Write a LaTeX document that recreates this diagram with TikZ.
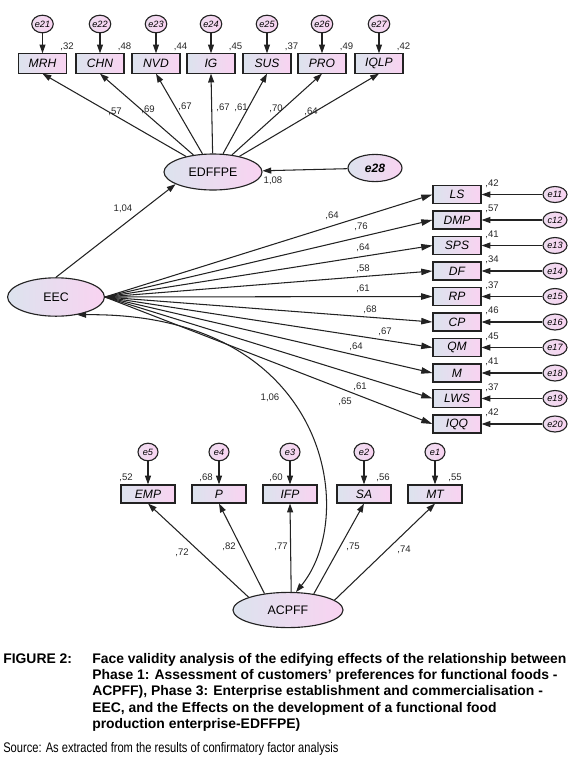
\documentclass[tikz,border=0pt]{standalone}
\usepackage{fontspec}
\setmainfont{Liberation Sans}
\newfontfamily\narrowfont[FakeStretch=0.8]{Liberation Sans}
\usetikzlibrary{arrows.meta,positioning,shapes.geometric}
\definecolor{shdL}{HTML}{DCE3EE}
\definecolor{shdR}{HTML}{F9D3F1}
\definecolor{errL}{HTML}{EEDDF0}
\definecolor{errR}{HTML}{F9D3F1}
\definecolor{edge}{HTML}{222222}
\tikzset{
  obsblk/.style={draw=edge,rectangle,line width=0.8pt,left color=shdL,right color=shdR,minimum width=12mm,minimum height=4.5mm,inner sep=0pt,font=\fontsize{8.6}{9}\selectfont\itshape},
  latent/.style={draw=edge,ellipse,line width=0.8pt,left color=shdL,right color=shdR,inner sep=0pt,font=\fontsize{8.8}{9}\selectfont},
  errnode/.style={draw=edge,ellipse,line width=0.8pt,left color=errL,right color=errR,minimum width=5mm,minimum height=4.4mm,inner sep=0pt,font=\fontsize{6.5}{7}\selectfont\itshape},
  arr/.style={-{Triangle[length=2.2mm,width=1.5mm]},line width=0.75pt,draw=edge},
  dblarr/.style={{Triangle[length=2.2mm,width=1.5mm]}-{Triangle[length=2.2mm,width=1.5mm]},line width=0.75pt,draw=edge},
  num/.style={font=\fontsize{6.8}{7}\selectfont,inner sep=0pt,text=black!85},
  captxt/.style={font=\fontsize{9.9}{11.6}\selectfont\bfseries,inner sep=0pt,align=left}
}

\begin{document}
\begin{tikzpicture}[x=0.25mm,y=-0.25mm]
  \useasboundingbox (0,0) rectangle (580,763);
  % Latent factors
  \node[latent, minimum width=24.5mm, minimum height=9mm] (EDF) at (213,172) {EDFFPE};
  \node[latent, minimum width=24.2mm, minimum height=9.6mm] (EEC) at (56,297) {EEC};
  \node[latent, minimum width=27.5mm, minimum height=8.8mm] (ACP) at (288,610) {ACPFF};
  \node[latent, minimum width=13.5mm, minimum height=6.8mm, font=\fontsize{8.6}{9}\selectfont\bfseries\itshape] (e28) at (375,168) {e28};

  % EDFFPE indicators
  \foreach \i/\x/\nm/\e/\rr/\v/\lx/\ly in {1/42.5/MRH/e21/32/57/115/112, 2/100/CHN/e22/48/69/148/110,
      3/156/NVD/e23/44/67/185/107, 4/211/IG/e24/45/67/223/108, 5/267/SUS/e25/37/61/241/108,
      6/322/PRO/e26/49/70/276/109, 7/379/IQLP/e27/42/64/311/112}{
    \node[obsblk, minimum height=4.8mm] (t\i) at (\x,63.5) {\nm};
    \node[errnode] (et\i) at (\x,24) {\e};
    \node[num] (rt\i) at (\x+24.5,47) {,\rr};
    \node[num] (lt\i) at (\lx,\ly) {,\v};
    \draw[arr] (et\i) -- (t\i);
    \draw[arr] (EDF) -- (t\i.south);
  }
  \draw[arr] (e28) -- (EDF);
  \node[num] (v28) at (273,181) {1,08};

  % EEC indicators
  \foreach \i/\nm/\e/\rr/\v/\lx/\ly in {1/LS/e11/42/64/332/216, 2/DMP/c12/57/76/361/227,
      3/SPS/e13/41/64/363/248, 4/DF/e14/34/58/363/269, 5/RP/e15/37/61/363/289,
      6/CP/e16/46/68/370/310, 7/QM/e17/45/67/385/332, 8/M/e18/41/64/356/347,
      9/LWS/e19/37/61/360/387, 10/IQQ/e20/42/65/345/402}{
    \pgfmathsetmacro\yy{194.5+(\i-1)*25.5}
    \node[obsblk] (r\i) at (457,\yy) {\nm};
    \node[errnode, minimum width=6mm, minimum height=4mm] (er\i) at (555,\yy) {\e};
    \node[num] (rr\i) at (492,\yy-11) {,\rr};
    \node[num] (lr\i) at (\lx,\ly) {,\v};
    \draw[arr] (er\i) -- (r\i);
    \draw[arr, -{Triangle[length=2.8mm,width=1.6mm]}] (EEC.east) -- (r\i.west);
  }
  \draw[arr] (EEC.north) -- (EDF.-162);
  \node[num] (v104) at (123,209) {1,04};

  % ACPFF indicators
  \foreach \i/\x/\nm/\e/\rr/\rx/\v/\lx/\ly/\a in {1/148/EMP/e5/52/126/72/182/553/162,
      2/219/P/e4/68/206/82/229/547/145, 3/290/IFP/e3/60/276/77/281/547/80,
      4/364/SA/e2/56/383/75/353/547/32, 5/435/MT/e1/55/455/74/404/550/12}{
    \node[obsblk, minimum width=13.5mm] (b\i) at (\x,494) {\nm};
    \node[errnode] (eb\i) at (\x,452) {\e};
    \node[num] (rb\i) at (\rx,477.5) {,\rr};
    \node[num] (lb\i) at (\lx,\ly) {,\v};
    \draw[arr] (eb\i) -- (b\i);
    \draw[arr] (ACP.\a) -- (b\i.south);
  }

  % Covariance EEC - ACPFF
  \draw[dblarr] (EEC.-40) .. controls +(250,-3) and +(64,-78) .. (ACP.66);
  \node[num] (v106) at (270,398) {1,06};

  % Caption
  \node[captxt, anchor=base west] (fig) at (3,663) {FIGURE 2:};
  \node[captxt, anchor=north west] (capt) at (92,653) {Face validity analysis of the edifying effects of the relationship between\\
    Phase 1: Assessment of customers' preferences for functional foods -\\
    ACPFF), Phase 3: Enterprise establishment and commercialisation -\\
    EEC, and the Effects on the development of a functional food\\
    production enterprise-EDFFPE)};
  \node[font=\fontsize{9.9}{11}\selectfont\narrowfont, inner sep=0pt, anchor=base west] (src) at (3,752) {Source: As extracted from the results of confirmatory factor analysis};
\end{tikzpicture}
\end{document}
